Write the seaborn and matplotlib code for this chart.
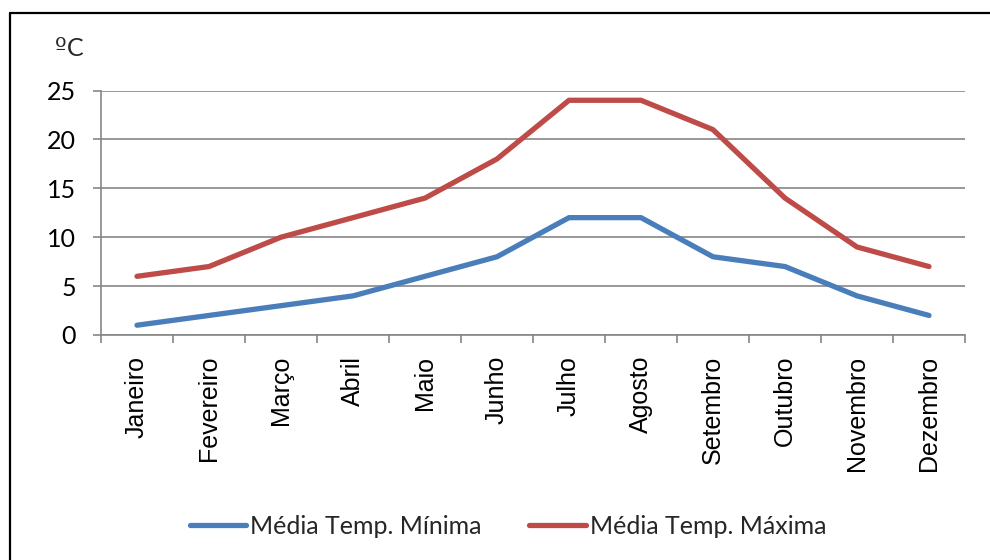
import matplotlib
matplotlib.use("Agg")
import matplotlib.pyplot as plt
import seaborn as sns
import pandas as pd
from matplotlib.lines import Line2D
from matplotlib.ticker import FixedLocator

months = ["Janeiro", "Fevereiro", "Março", "Abril", "Maio", "Junho",
          "Julho", "Agosto", "Setembro", "Outubro", "Novembro", "Dezembro"]
temp_min = [1, 2, 3, 4, 6, 8, 12, 12, 8, 7, 4, 2]
temp_max = [6, 7, 10, 12, 14, 18, 24, 24, 21, 14, 9, 7]
series_names = ["Média Temp. Mínima", "Média Temp. Máxima"]
colors = ["#4A7EBB", "#BE4B48"]
yticks = [0, 5, 10, 15, 20, 25]

df = pd.DataFrame({
    "Mês": months * 2,
    "Temp": temp_min + temp_max,
    "Série": [series_names[0]] * 12 + [series_names[1]] * 12,
})

sns.set_theme(style="white")
plt.rcParams['font.family'] = ['Lato', 'DejaVu Sans']

W, H = 990, 560
fig = plt.figure(figsize=(9.9, 5.6), dpi=100)
ax = fig.add_axes([101 / W, 1 - 335 / H, (965 - 101) / W, (335 - 90.5) / H])

sns.lineplot(data=df, x="Mês", y="Temp", hue="Série", palette=colors,
             sort=False, linewidth=3.8, ax=ax, legend=False,
             solid_capstyle="round")

ax.set_xlim(-0.5, len(months) - 0.5)
ax.set_ylim(0, 25)
ax.set_xlabel("")
ax.set_ylabel("")

grid_c = "#868686"
ax.set_yticks(yticks)
for y in yticks:
    ax.axhline(y, color=grid_c, lw=1.2, zorder=0)

ax.set_xticks(range(len(months)))
ax.set_xticklabels(months, rotation=90, fontfamily="Liberation Sans", fontsize=18)
ax.xaxis.set_minor_locator(FixedLocator([i - 0.5 for i in range(len(months) + 1)]))
ax.tick_params(axis="x", which="major", length=0, pad=15, colors="black")
ax.tick_params(axis="x", which="minor", length=5.5, width=1.2, color=grid_c, direction="out", bottom=True)
ax.tick_params(axis="y", which="major", length=6, width=1.2, color=grid_c, direction="out",
               pad=12, labelsize=18, left=True)
for lab in ax.get_yticklabels():
    lab.set_color("black")

for s in ["top", "right"]:
    ax.spines[s].set_visible(False)
for s in ["left", "bottom"]:
    ax.spines[s].set_color(grid_c)
    ax.spines[s].set_linewidth(1.2)

fig.text(55 / W, 1 - 48 / H, "º", fontsize=18, ha="left", va="center",
         fontfamily="DejaVu Sans")
fig.text(67 / W, 1 - 48 / H, "C", fontsize=18, ha="left", va="center")

handles = [Line2D([], [], color=c, lw=3.8, solid_capstyle="round") for c in colors]
fig.legend(handles, series_names, loc="center", bbox_to_anchor=(508 / W, 1 - 526 / H),
           ncol=2, frameon=False, fontsize=18, handlelength=2.25, handletextpad=0.16,
           columnspacing=1.9)

# outer border (top and left edges visible)
fig.add_artist(Line2D([9.5 / W, 9.5 / W], [0, 1 - 12.5 / H], color="black", lw=1.6,
                      transform=fig.transFigure))
fig.add_artist(Line2D([9.5 / W, 1], [1 - 12.5 / H, 1 - 12.5 / H], color="black", lw=1.6,
                      transform=fig.transFigure))

fig.savefig("out.png", dpi=100)
